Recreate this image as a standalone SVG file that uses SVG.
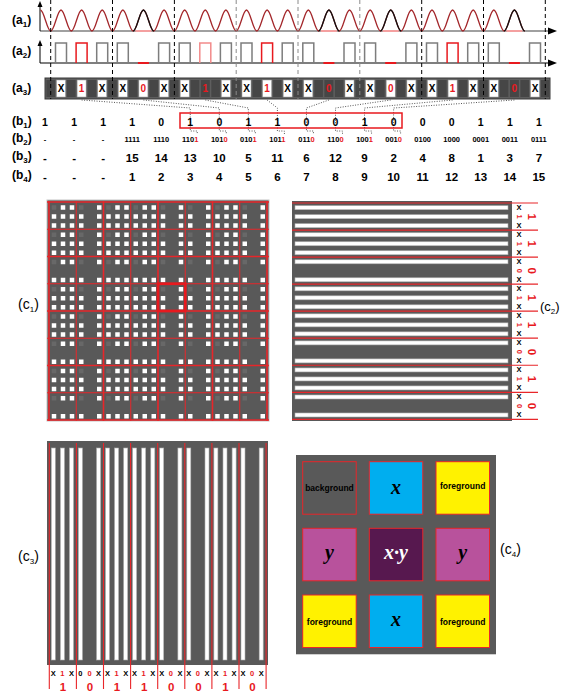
<svg xmlns="http://www.w3.org/2000/svg" width="561" height="696" viewBox="0 0 561 696">
<style>
text{font-family:"Liberation Sans",Arial,sans-serif;fill:#000}
.lb{font-size:12px;font-weight:bold}
.lc{font-size:14px}
.b1{font-size:10.5px;font-weight:bold;text-anchor:middle}
.b2{font-size:7.5px;font-weight:bold;text-anchor:middle}
.b3{font-size:11.5px;font-weight:bold;text-anchor:middle}
text.r,tspan.r{fill:#e8191e}
.xa{font-size:10px;font-weight:bold;text-anchor:middle}
.sm{font-size:7.5px;font-weight:bold;text-anchor:middle;dominant-baseline:central}
.big{font-size:11.5px;font-weight:bold;text-anchor:middle;dominant-baseline:central}
.dk{stroke:#000;stroke-width:1;stroke-dasharray:4 3;fill:none}
.dg{stroke:#8a8a8a;stroke-width:1;stroke-dasharray:4 3;fill:none}
.dot{stroke:#555;stroke-width:1;stroke-dasharray:1 1.5;fill:none}
.wc{fill:#fff;stroke:#999;stroke-width:.5}
.dc{fill:#464646}
.bg{fill:#595959}
.grid{stroke:#e8262a;fill:none}
.sq{fill:#fff}
.dim{fill:#686868}
.hs{fill:#fff;stroke:#b0b0b0;stroke-width:.6}
.tile{stroke:#e8262a;stroke-width:1}
.tt{font-size:8.5px;font-weight:bold;text-anchor:middle}
.m{font-family:"Liberation Serif","DejaVu Serif",serif;font-style:italic;font-weight:bold;font-size:20px;text-anchor:middle}
</style>
<defs>
<g id="tA"><path class="dim" d="M2.75 3.25h4.5v4.5h-4.5z"/><path class="sq" d="M11.75 3.25h4.5v4.5h-4.5zM20.75 3.25h4.5v4.5h-4.5zM2.75 12.25h4.5v4.5h-4.5zM11.75 12.25h4.5v4.5h-4.5zM20.75 12.25h4.5v4.5h-4.5zM2.75 21.25h4.5v4.5h-4.5zM11.75 21.25h4.5v4.5h-4.5zM20.75 21.25h4.5v4.5h-4.5z"/></g>
<g id="tB"><path class="dim" d="M2.75 3.25h4.5v4.5h-4.5z"/><path class="sq" d="M20.75 3.25h4.5v4.5h-4.5zM2.75 12.25h4.5v4.5h-4.5zM20.75 12.25h4.5v4.5h-4.5zM2.75 21.25h4.5v4.5h-4.5zM20.75 21.25h4.5v4.5h-4.5z"/></g>
<g id="tC"><path class="dim" d="M2.75 3.25h4.5v4.5h-4.5z"/><path class="sq" d="M11.75 3.25h4.5v4.5h-4.5zM20.75 3.25h4.5v4.5h-4.5zM2.75 21.25h4.5v4.5h-4.5zM11.75 21.25h4.5v4.5h-4.5zM20.75 21.25h4.5v4.5h-4.5z"/></g>
<g id="tD"><path class="dim" d="M2.75 3.25h4.5v4.5h-4.5z"/><path class="sq" d="M20.75 3.25h4.5v4.5h-4.5zM2.75 21.25h4.5v4.5h-4.5zM20.75 21.25h4.5v4.5h-4.5z"/></g>
<g id="R1"><use href="#tA" x="0"/><use href="#tB" x="27.25"/><use href="#tA" x="54.5"/><use href="#tA" x="81.75"/><use href="#tB" x="109"/><use href="#tB" x="136.25"/><use href="#tA" x="163.5"/><use href="#tB" x="190.75"/></g>
<g id="R0"><use href="#tC" x="0"/><use href="#tD" x="27.25"/><use href="#tC" x="54.5"/><use href="#tC" x="81.75"/><use href="#tD" x="109"/><use href="#tD" x="136.25"/><use href="#tC" x="163.5"/><use href="#tD" x="190.75"/></g>
</defs>
<rect width="561" height="696" fill="#fff"/>

<!-- row labels -->
<g id="labels">
<text class="lb" x="12" y="24">(a<tspan font-size="8" dy="3">1</tspan><tspan dy="-3">)</tspan></text>
<text class="lb" x="12" y="55">(a<tspan font-size="8" dy="3">2</tspan><tspan dy="-3">)</tspan></text>
<text class="lb" x="12" y="92">(a<tspan font-size="8" dy="3">3</tspan><tspan dy="-3">)</tspan></text>
<text class="lb" x="12" y="125">(b<tspan font-size="8" dy="3">1</tspan><tspan dy="-3">)</tspan></text>
<text class="lb" x="12" y="142">(b<tspan font-size="8" dy="3">2</tspan><tspan dy="-3">)</tspan></text>
<text class="lb" x="12" y="160">(b<tspan font-size="8" dy="3">3</tspan><tspan dy="-3">)</tspan></text>
<text class="lb" x="12" y="179">(b<tspan font-size="8" dy="3">4</tspan><tspan dy="-3">)</tspan></text>
<text class="lc" x="18" y="309">(c<tspan font-size="8" dy="3">1</tspan><tspan dy="-3">)</tspan></text>
<text class="lc" x="540" y="311" style="font-size:13px">(c<tspan font-size="8" dy="3">2</tspan><tspan dy="-3">)</tspan></text>
<text class="lc" x="18" y="561">(c<tspan font-size="8" dy="3">3</tspan><tspan dy="-3">)</tspan></text>
<text class="lc" x="500" y="554">(c<tspan font-size="8" dy="3">4</tspan><tspan dy="-3">)</tspan></text>
</g>

<!-- a1 -->
<g id="a1">
<line x1="40" y1="31" x2="550" y2="31" stroke="#a0a0a0" stroke-width="2.2"/>
<path d="M548 27.5L557 31L548 34.5z" fill="#000"/>
<line x1="40" y1="31" x2="40" y2="4" stroke="#000" stroke-width="1"/>
<path d="M37.5 7L40 1L42.5 7z" fill="#000"/>
<path fill="none" stroke="#a3262a" stroke-width="1.3" d="M40.4 10c3.745 0 6.56 21 10.305 21s6.56 -21 10.305 -21s6.56 21 10.305 21s6.56 -21 10.305 -21s6.56 21 10.305 21s6.56 -21 10.305 -21s6.56 21 10.305 21s6.56 -21 10.305 -21s6.56 21 10.305 21s6.56 -21 10.305 -21s6.56 21 10.305 21s6.56 -21 10.305 -21s6.56 21 10.305 21s6.56 -21 10.305 -21s6.56 21 10.305 21s6.56 -21 10.305 -21s6.56 21 10.305 21s6.56 -21 10.305 -21s6.56 21 10.305 21s6.56 -21 10.305 -21s6.56 21 10.305 21s6.56 -21 10.305 -21s6.56 21 10.305 21s6.56 -21 10.305 -21s6.56 21 10.305 21s6.56 -21 10.305 -21s6.56 21 10.305 21s6.56 -21 10.305 -21s6.56 21 10.305 21s6.56 -21 10.305 -21s6.56 21 10.305 21s6.56 -21 10.305 -21s6.56 21 10.305 21s6.56 -21 10.305 -21s6.56 21 10.305 21s6.56 -21 10.305 -21s6.56 21 10.305 21s6.56 -21 10.305 -21s6.56 21 10.305 21s6.56 -21 10.305 -21s6.56 21 10.305 21s6.56 -21 10.305 -21s6.56 21 10.305 21s6.56 -21 10.305 -21s6.56 21 10.305 21s6.56 -21 10.305 -21s6.56 21 10.305 21"/>
<path fill="none" stroke="#111" stroke-width="1.3" d="M133.14 31c3.745 0 6.56 -21 10.305 -21s6.56 21 10.305 21M318.62 31c3.745 0 6.56 -21 10.305 -21s6.56 21 10.305 21M380.44 31c3.745 0 6.56 -21 10.305 -21s6.56 21 10.305 21M504.1 31c3.745 0 6.56 -21 10.305 -21s6.56 21 10.305 21"/>
<path fill="none" stroke="#f4a0a0" stroke-width="2" d="M135.4 31H151.4M320.9 31H336.9M382.7 31H398.7M506.4 31H522.4"/>
</g>

<!-- a2 -->
<g id="a2">
<line x1="40" y1="63" x2="550" y2="63" stroke="#000" stroke-width="1.2"/>
<path d="M548 59.5L557 63L548 66.5z" fill="#000"/>
<line x1="40" y1="63" x2="40" y2="44" stroke="#000" stroke-width="1"/>
<path d="M37.5 46L40 40L42.5 46z" fill="#000"/>
<path fill="none" stroke="#7d7d7d" stroke-width="1.5" d="M55.5 63V43H66.5V63M96.7 63V43H107.7V63M117.3 63V43H128.3V63M158.6 63V43H169.6V63M179.2 63V43H190.2V63M220.4 63V43H231.4V63M241 63V43H252V63M282.2 63V43H293.2V63M302.8 63V43H313.8V63M344 63V43H355V63M364.6 63V43H375.6V63M405.9 63V43H416.9V63M426.5 63V43H437.5V63M467.7 63V43H478.7V63M488.3 63V43H499.3V63M529.5 63V43H540.5V63"/>
<path fill="none" stroke="#e8191e" stroke-width="1.5" d="M76.1 63V43H87.1V63M261.6 63V43H272.6V63M447.1 63V43H458.1V63"/>
<path fill="none" stroke="#f28a8a" stroke-width="1.5" d="M199.8 63V43H210.8V63"/>
<path fill="none" stroke="#e8191e" stroke-width="2" d="M137.9 63H148.9M323.4 63H334.4M385.2 63H396.2M508.9 63H519.9"/>
</g>

<!-- a3 -->
<g id="a3">
<rect x="45" y="78" width="505" height="21" fill="#5e5e5e" stroke="#3a3a3a" stroke-width="1"/>
<g class="dc">
<rect x="46.4" y="80" width="8.6" height="17"/><rect x="67" y="80" width="8.6" height="17"/><rect x="87.6" y="80" width="8.6" height="17"/><rect x="108.2" y="80" width="8.6" height="17"/><rect x="128.8" y="80" width="8.6" height="17"/><rect x="149.4" y="80" width="8.6" height="17"/><rect x="170" y="80" width="8.6" height="17"/><rect x="190.7" y="80" width="8.6" height="17"/><rect x="211.3" y="80" width="8.6" height="17"/><rect x="231.9" y="80" width="8.6" height="17"/><rect x="252.5" y="80" width="8.6" height="17"/><rect x="273.1" y="80" width="8.6" height="17"/><rect x="293.7" y="80" width="8.6" height="17"/><rect x="314.3" y="80" width="8.6" height="17"/><rect x="334.9" y="80" width="8.6" height="17"/><rect x="355.5" y="80" width="8.6" height="17"/><rect x="376.1" y="80" width="8.6" height="17"/><rect x="396.7" y="80" width="8.6" height="17"/><rect x="417.4" y="80" width="8.6" height="17"/><rect x="438" y="80" width="8.6" height="17"/><rect x="458.6" y="80" width="8.6" height="17"/><rect x="479.2" y="80" width="8.6" height="17"/><rect x="499.8" y="80" width="8.6" height="17"/><rect x="520.4" y="80" width="8.6" height="17"/><rect x="541" y="80" width="8" height="17"/>
<rect x="200.8" y="80" width="9" height="17"/><rect x="324.4" y="80" width="9" height="17"/><rect x="509.9" y="80" width="9" height="17"/>
</g>
<g class="wc">
<rect x="56.5" y="80" width="9" height="17"/><rect x="77.1" y="80" width="9" height="17"/><rect x="97.7" y="80" width="9" height="17"/><rect x="118.3" y="80" width="9" height="17"/><rect x="138.9" y="80" width="9" height="17"/><rect x="159.6" y="80" width="9" height="17"/><rect x="180.2" y="80" width="9" height="17"/><rect x="221.4" y="80" width="9" height="17"/><rect x="242" y="80" width="9" height="17"/><rect x="262.6" y="80" width="9" height="17"/><rect x="283.2" y="80" width="9" height="17"/><rect x="303.8" y="80" width="9" height="17"/><rect x="345" y="80" width="9" height="17"/><rect x="365.6" y="80" width="9" height="17"/><rect x="386.2" y="80" width="9" height="17"/><rect x="406.9" y="80" width="9" height="17"/><rect x="427.5" y="80" width="9" height="17"/><rect x="448.1" y="80" width="9" height="17"/><rect x="468.7" y="80" width="9" height="17"/><rect x="489.3" y="80" width="9" height="17"/><rect x="530.5" y="80" width="9" height="17"/>
</g>
<text class="xa" y="92.3"><tspan x="61">X</tspan><tspan x="102.2">X</tspan><tspan x="122.8">X</tspan><tspan x="164.1">X</tspan><tspan x="184.7">X</tspan><tspan x="225.9">X</tspan><tspan x="246.5">X</tspan><tspan x="287.7">X</tspan><tspan x="308.3">X</tspan><tspan x="349.5">X</tspan><tspan x="370.1">X</tspan><tspan x="411.4">X</tspan><tspan x="432">X</tspan><tspan x="473.2">X</tspan><tspan x="493.8">X</tspan><tspan x="535">X</tspan></text>
<text class="xa r" y="92.3"><tspan x="81.6">1</tspan><tspan x="143.4">0</tspan><tspan x="205.3">1</tspan><tspan x="267.1">1</tspan><tspan x="328.9">0</tspan><tspan x="390.7">0</tspan><tspan x="452.6">1</tspan><tspan x="514.4">0</tspan></text>
</g>

<!-- dashed slot separators -->
<g id="separators">
<path class="dk" d="M50.7 0V99M112.5 0V99M174.4 0V99M421.7 0V99M483.5 0V99M545.3 0V99"/>
<path class="dg" d="M236.2 0V99M298 0V99M359.8 0V99"/>
</g>

<!-- connectors -->
<g id="connectors">
<polyline class="dot" points="81.6,100 190.25,108 190.25,131 197.25,131 197.25,134"/>
<polyline class="dot" points="143.4,100 219.3,108 219.3,131 226.3,131 226.3,134"/>
<polyline class="dot" points="205.3,100 248.35,108 248.35,131 255.35,131 255.35,134"/>
<polyline class="dot" points="267.1,100 277.4,108 277.4,131 284.4,131 284.4,134"/>
<polyline class="dot" points="328.9,100 306.45,108 306.45,131 313.45,131 313.45,134"/>
<polyline class="dot" points="390.7,100 335.5,108 335.5,131 342.5,131 342.5,134"/>
<polyline class="dot" points="452.6,100 364.55,108 364.55,131 371.55,131 371.55,134"/>
<polyline class="dot" points="514.4,100 393.6,108 393.6,131 400.6,131 400.6,134"/>
</g>

<!-- b rows -->
<g id="b-rows">
<rect x="180" y="113" width="222" height="15" fill="none" stroke="#e8191e" stroke-width="1.5"/>
<text class="b1" y="125.5"><tspan x="45">1</tspan><tspan x="74.05">1</tspan><tspan x="103.1">1</tspan><tspan x="132.15">1</tspan><tspan x="161.2">0</tspan><tspan x="190.25">1</tspan><tspan x="219.3">0</tspan><tspan x="248.35">1</tspan><tspan x="277.4">1</tspan><tspan x="306.45">0</tspan><tspan x="335.5">0</tspan><tspan x="364.55">1</tspan><tspan x="393.6">0</tspan><tspan x="422.65">0</tspan><tspan x="451.7">0</tspan><tspan x="480.75">1</tspan><tspan x="509.8">1</tspan><tspan x="538.85">1</tspan></text>
<text class="b2" x="45" y="141.7">-</text><text class="b2" x="74.05" y="141.7">-</text><text class="b2" x="103.1" y="141.7">-</text>
<text class="b2" x="132.15" y="141.7">1111</text>
<text class="b2" x="161.2" y="141.7">1110</text>
<text class="b2" x="190.25" y="141.7">110<tspan class="r">1</tspan></text>
<text class="b2" x="219.3" y="141.7">101<tspan class="r">0</tspan></text>
<text class="b2" x="248.35" y="141.7">010<tspan class="r">1</tspan></text>
<text class="b2" x="277.4" y="141.7">101<tspan class="r">1</tspan></text>
<text class="b2" x="306.45" y="141.7">011<tspan class="r">0</tspan></text>
<text class="b2" x="335.5" y="141.7">110<tspan class="r">0</tspan></text>
<text class="b2" x="364.55" y="141.7">100<tspan class="r">1</tspan></text>
<text class="b2" x="393.6" y="141.7">001<tspan class="r">0</tspan></text>
<text class="b2" x="422.65" y="141.7">0100</text>
<text class="b2" x="451.7" y="141.7">1000</text>
<text class="b2" x="480.75" y="141.7">0001</text>
<text class="b2" x="509.8" y="141.7">0011</text>
<text class="b2" x="538.85" y="141.7">0111</text>
<text class="b3" y="161.5"><tspan x="45">-</tspan><tspan x="74.05">-</tspan><tspan x="103.1">-</tspan><tspan x="132.15">15</tspan><tspan x="161.2">14</tspan><tspan x="190.25">13</tspan><tspan x="219.3">10</tspan><tspan x="248.35">5</tspan><tspan x="277.4">11</tspan><tspan x="306.45">6</tspan><tspan x="335.5">12</tspan><tspan x="364.55">9</tspan><tspan x="393.6">2</tspan><tspan x="422.65">4</tspan><tspan x="451.7">8</tspan><tspan x="480.75">1</tspan><tspan x="509.8">3</tspan><tspan x="538.85">7</tspan></text>
<text class="b3" y="181"><tspan x="45">-</tspan><tspan x="74.05">-</tspan><tspan x="103.1">-</tspan><tspan x="132.15">1</tspan><tspan x="161.2">2</tspan><tspan x="190.25">3</tspan><tspan x="219.3">4</tspan><tspan x="248.35">5</tspan><tspan x="277.4">6</tspan><tspan x="306.45">7</tspan><tspan x="335.5">8</tspan><tspan x="364.55">9</tspan><tspan x="393.6">10</tspan><tspan x="422.65">11</tspan><tspan x="451.7">12</tspan><tspan x="480.75">13</tspan><tspan x="509.8">14</tspan><tspan x="538.85">15</tspan></text>
</g>

<!-- c1 -->
<g id="c1">
<rect class="bg" x="47" y="200" width="222" height="221" stroke="#c4c4c4" stroke-width="1"/>
<use href="#R1" x="49" y="202"/>
<use href="#R1" x="49" y="229.25"/>
<use href="#R0" x="49" y="256.5"/>
<use href="#R1" x="49" y="283.75"/>
<use href="#R1" x="49" y="311"/>
<use href="#R0" x="49" y="338.25"/>
<use href="#R1" x="49" y="365.5"/>
<use href="#R0" x="49" y="392.75"/>
<path class="grid" stroke-width="1" d="M76.25 201V421M130.75 201V421M185.25 201V421M239.75 201V421M47 229.25H269M47 283.75H269M47 338.25H269M47 392.75H269"/>
<path class="grid" stroke-width="1.6" d="M49 201V421M103.5 201V421M158 201V421M212.5 201V421M267 201V421M47 202H269M47 256.5H269M47 311H269M47 365.5H269M47 420H269"/>
<rect x="158" y="283.75" width="27.25" height="27.25" fill="none" stroke="#e8191e" stroke-width="2.8"/>
</g>

<!-- c2 -->
<g id="c2">
<rect class="bg" x="292" y="201" width="220" height="220"/>
<g class="hs">
<rect x="295" y="205.7" width="213" height="4"/><rect x="295" y="214.7" width="213" height="4"/><rect x="295" y="223.7" width="213" height="4"/>
<rect x="295" y="232.74" width="213" height="4"/><rect x="295" y="241.74" width="213" height="4"/><rect x="295" y="250.74" width="213" height="4"/>
<rect x="295" y="259.78" width="213" height="4"/><rect x="295" y="277.78" width="213" height="4"/>
<rect x="295" y="286.82" width="213" height="4"/><rect x="295" y="295.82" width="213" height="4"/><rect x="295" y="304.82" width="213" height="4"/>
<rect x="295" y="313.86" width="213" height="4"/><rect x="295" y="322.86" width="213" height="4"/><rect x="295" y="331.86" width="213" height="4"/>
<rect x="295" y="340.9" width="213" height="4"/><rect x="295" y="358.9" width="213" height="4"/>
<rect x="295" y="367.94" width="213" height="4"/><rect x="295" y="376.94" width="213" height="4"/><rect x="295" y="385.94" width="213" height="4"/>
<rect x="295" y="394.98" width="213" height="4"/><rect x="295" y="412.98" width="213" height="4"/>
</g>
<path class="grid" stroke-width="1.2" d="M292 203H538M292 230.04H538M292 257.08H538M292 284.12H538M292 311.16H538M292 338.2H538M292 365.24H538M292 392.28H538M292 419.32H538"/>
<g class="sm">
<text x="519" y="207.7">X</text><text x="519" y="225.7">X</text><text x="519" y="234.74">X</text><text x="519" y="252.74">X</text><text x="519" y="261.78">X</text><text x="519" y="279.78">X</text><text x="519" y="288.82">X</text><text x="519" y="306.82">X</text><text x="519" y="315.86">X</text><text x="519" y="333.86">X</text><text x="519" y="342.9">X</text><text x="519" y="360.9">X</text><text x="519" y="369.94">X</text><text x="519" y="387.94">X</text><text x="519" y="396.98">X</text><text x="519" y="414.98">X</text>
</g>
<g class="sm">
<text class="r" x="519" y="216.7" transform="rotate(90 519 216.7)">1</text>
<text class="r" x="519" y="243.74" transform="rotate(90 519 243.74)">1</text>
<text class="r" x="519" y="270.78" transform="rotate(90 519 270.78)">0</text>
<text class="r" x="519" y="297.82" transform="rotate(90 519 297.82)">1</text>
<text class="r" x="519" y="324.86" transform="rotate(90 519 324.86)">1</text>
<text class="r" x="519" y="351.9" transform="rotate(90 519 351.9)">0</text>
<text class="r" x="519" y="378.94" transform="rotate(90 519 378.94)">1</text>
<text class="r" x="519" y="405.98" transform="rotate(90 519 405.98)">0</text>
</g>
<g class="big">
<text class="r" x="532" y="216.7" transform="rotate(90 532 216.7)">1</text>
<text class="r" x="532" y="243.74" transform="rotate(90 532 243.74)">1</text>
<text class="r" x="532" y="270.78" transform="rotate(90 532 270.78)">0</text>
<text class="r" x="532" y="297.82" transform="rotate(90 532 297.82)">1</text>
<text class="r" x="532" y="324.86" transform="rotate(90 532 324.86)">1</text>
<text class="r" x="532" y="351.9" transform="rotate(90 532 351.9)">0</text>
<text class="r" x="532" y="378.94" transform="rotate(90 532 378.94)">1</text>
<text class="r" x="532" y="405.98" transform="rotate(90 532 405.98)">0</text>
</g>
</g>

<!-- c3 -->
<g id="c3">
<rect class="bg" x="47" y="441" width="221" height="224"/>
<g class="hs">
<rect x="51.3" y="448" width="4" height="212"/><rect x="60.4" y="448" width="4" height="212"/><rect x="69.5" y="448" width="4" height="212"/>
<rect x="78.4" y="448" width="4" height="212"/><rect x="96.6" y="448" width="4" height="212"/>
<rect x="105.5" y="448" width="4" height="212"/><rect x="114.6" y="448" width="4" height="212"/><rect x="123.7" y="448" width="4" height="212"/>
<rect x="132.6" y="448" width="4" height="212"/><rect x="141.7" y="448" width="4" height="212"/><rect x="150.8" y="448" width="4" height="212"/>
<rect x="159.7" y="448" width="4" height="212"/><rect x="177.9" y="448" width="4" height="212"/>
<rect x="186.8" y="448" width="4" height="212"/><rect x="205" y="448" width="4" height="212"/>
<rect x="213.9" y="448" width="4" height="212"/><rect x="223" y="448" width="4" height="212"/><rect x="232.1" y="448" width="4" height="212"/>
<rect x="241" y="448" width="4" height="212"/><rect x="259.2" y="448" width="4" height="212"/>
</g>
<path class="grid" stroke-width="1.1" d="M49.3 443V689M76.4 443V689M103.5 443V689M130.6 443V689M157.7 443V689M184.8 443V689M211.9 443V689M239 443V689M266.1 443V689"/>
<text class="sm" y="673"><tspan x="53.3">X</tspan><tspan x="71.5">X</tspan><tspan x="80.4">0</tspan><tspan x="98.6">X</tspan><tspan x="107.5">X</tspan><tspan x="125.7">X</tspan><tspan x="134.6">X</tspan><tspan x="152.8">X</tspan><tspan x="161.7">X</tspan><tspan x="179.9">X</tspan><tspan x="188.8">X</tspan><tspan x="207">X</tspan><tspan x="215.9">X</tspan><tspan x="234.1">X</tspan><tspan x="243">X</tspan><tspan x="261.2">X</tspan></text>
<text class="sm r" y="673"><tspan x="62.4">1</tspan><tspan x="89.5">0</tspan><tspan x="116.6">1</tspan><tspan x="143.7">1</tspan><tspan x="170.8">0</tspan><tspan x="197.9">0</tspan><tspan x="225">1</tspan><tspan x="252.1">0</tspan></text>
<text class="big r" y="687"><tspan x="62.85">1</tspan><tspan x="89.95">0</tspan><tspan x="117.05">1</tspan><tspan x="144.15">1</tspan><tspan x="171.25">0</tspan><tspan x="198.35">0</tspan><tspan x="225.45">1</tspan><tspan x="252.55">0</tspan></text>
</g>

<!-- c4 -->
<g id="c4">
<rect class="bg" x="296" y="455" width="200" height="199"/>
<line x1="296" y1="654.5" x2="496" y2="654.5" stroke="#cfcfcf" stroke-width="1"/>
<g id="t-background"><rect class="tile" x="302.7" y="461.7" width="53.5" height="52.5" fill="#595959"/><text class="tt" x="329.5" y="490.5">background</text></g>
<g id="t-x-top"><rect class="tile" x="369.3" y="461.7" width="53.5" height="52.5" fill="#00aeef"/><text class="m" x="396" y="494">x</text></g>
<g id="t-fg-tr"><rect class="tile" x="436" y="461.7" width="53.5" height="52.5" fill="#fff200"/><text class="tt" x="462.7" y="488.5">foreground</text></g>
<g id="t-y-left"><rect class="tile" x="302.7" y="528.3" width="53.5" height="52.5" fill="#b8529c"/><text class="m" x="329.5" y="559">y</text></g>
<g id="t-xy"><rect class="tile" x="369.3" y="528.3" width="53.5" height="52.5" fill="#57184f"/><text class="m" x="396" y="559" style="fill:#fff">x·y</text></g>
<g id="t-y-right"><rect class="tile" x="436" y="528.3" width="53.5" height="52.5" fill="#b8529c"/><text class="m" x="462.7" y="559">y</text></g>
<g id="t-fg-bl"><rect class="tile" x="302.7" y="595" width="53.5" height="52.5" fill="#fff200"/><text class="tt" x="329.5" y="625">foreground</text></g>
<g id="t-x-bottom"><rect class="tile" x="369.3" y="595" width="53.5" height="52.5" fill="#00aeef"/><text class="m" x="396" y="626">x</text></g>
<g id="t-fg-br"><rect class="tile" x="436" y="595" width="53.5" height="52.5" fill="#fff200"/><text class="tt" x="462.7" y="625">foreground</text></g>
</g>
</svg>
